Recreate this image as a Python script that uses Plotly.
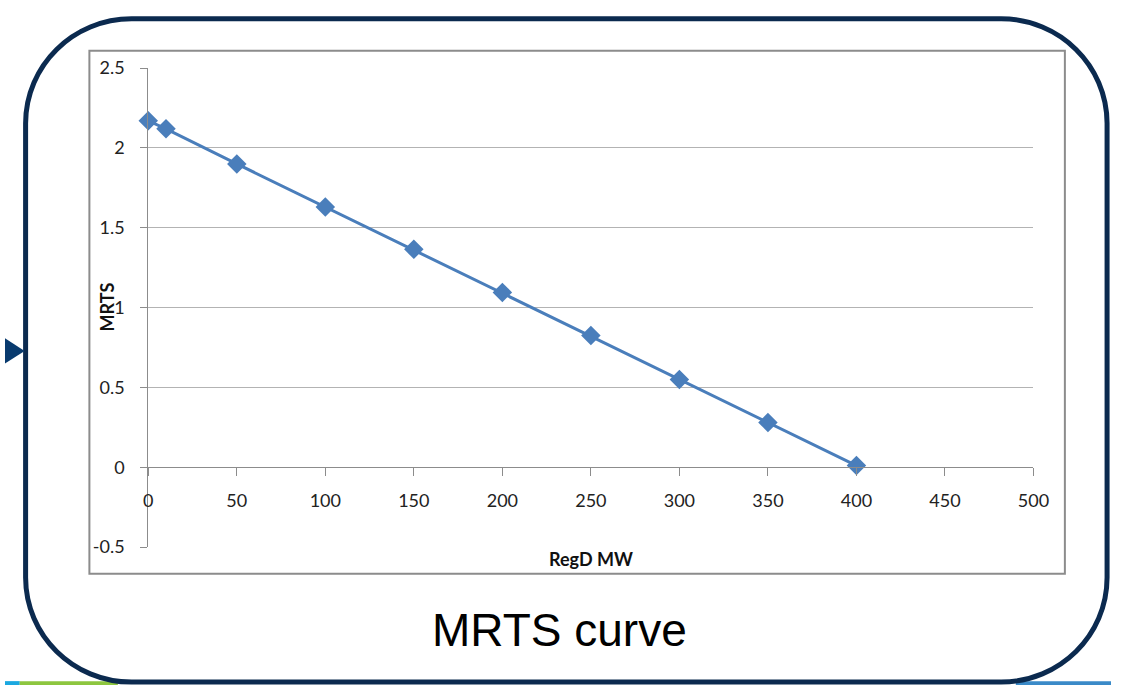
import plotly.graph_objects as go

W, H = 1127, 695

# Data
regd_mw = [0, 10, 50, 100, 150, 200, 250, 300, 350, 400]
mrts = [2.17, 2.12, 1.90, 1.63, 1.365, 1.095, 0.825, 0.55, 0.28, 0.01]
x_ticks = [0, 50, 100, 150, 200, 250, 300, 350, 400, 450, 500]
y_ticks = [-0.5, 0, 0.5, 1, 1.5, 2, 2.5]
y_tick_text = ["-0.5", "0", "0.5", "1", "1.5", "2", "2.5"]

def px(x):
    return x / W

def py(y):
    return 1 - y / H

X0, X1 = 146, 1048
Y_TOP, Y_BOT = 58, 552.5
Y_ZERO = 470

fig = go.Figure()
fig.add_trace(go.Scatter(
    x=regd_mw, y=mrts, mode="lines+markers",
    line=dict(color="#4A7EBB", width=3),
    marker=dict(symbol="diamond", size=15, color="#4A7EBB"),
    showlegend=False, cliponaxis=False,
))

tickfont = dict(family="Lato, Open Sans, sans-serif", size=18, color="#222222")

fig.update_layout(
    width=W, height=H,
    margin=dict(l=0, r=0, t=0, b=0),
    paper_bgcolor="white", plot_bgcolor="white",
    xaxis=dict(
        domain=[px(X0), px(X1)], range=[0, 500],
        tickmode="array", tickvals=x_ticks,
        ticktext=[str(v) for v in x_ticks],
        showgrid=False, zeroline=False,
        showline=True, linecolor="#8C8C8C", linewidth=1,
        ticks="outside", ticklen=8, tickcolor="#8C8C8C", tickwidth=1,
        anchor="free", position=py(Y_ZERO),
        tickfont=tickfont, ticklabelstandoff=9,
    ),
    yaxis=dict(
        domain=[py(Y_BOT), py(Y_TOP)], range=[-0.5, 2.5],
        tickmode="array", tickvals=y_ticks, ticktext=y_tick_text,
        showgrid=True, gridcolor="#B3B3B3", gridwidth=1,
        zeroline=False,
        showline=True, linecolor="#8C8C8C", linewidth=1,
        ticks="outside", ticklen=7, tickcolor="#8C8C8C", tickwidth=1,
        tickfont=tickfont, ticklabelstandoff=12,
    ),
)

shapes = []
# chart frame
shapes.append(dict(type="rect", xref="paper", yref="paper",
                   x0=px(86), x1=px(1080), y0=py(580), y1=py(40),
                   line=dict(color="#8C8C8C", width=2), layer="below"))

# outer rounded rectangle
L, R, T, B = 21, 1123, 7, 692
r = 108
k = 0.5523 * r
def P(x, y):
    return f"{px(x):.5f},{py(y):.5f}"
path = (
    f"M {P(L + r, T)} L {P(R - r, T)} "
    f"C {P(R - r + k, T)} {P(R, T + r - k)} {P(R, T + r)} "
    f"L {P(R, B - r)} "
    f"C {P(R, B - r + k)} {P(R - r + k, B)} {P(R - r, B)} "
    f"L {P(L + r, B)} "
    f"C {P(L + r - k, B)} {P(L, B - r + k)} {P(L, B - r)} "
    f"L {P(L, T + r)} "
    f"C {P(L, T + r - k)} {P(L + r - k, T)} {P(L + r, T)} Z"
)
# bottom color strip
shapes.append(dict(type="rect", xref="paper", yref="paper",
                   x0=px(0), x1=px(15), y0=py(695), y1=py(691),
                   fillcolor="#1BA8E0", line=dict(width=0)))
shapes.append(dict(type="rect", xref="paper", yref="paper",
                   x0=px(15), x1=px(115), y0=py(695), y1=py(691),
                   fillcolor="#8DC63F", line=dict(width=0)))
shapes.append(dict(type="rect", xref="paper", yref="paper",
                   x0=px(1030), x1=px(1127), y0=py(695), y1=py(691),
                   fillcolor="#3A8AC8", line=dict(width=0)))
shapes.append(dict(type="path", xref="paper", yref="paper", path=path,
                   line=dict(color="#0B2A4F", width=5)))
# left arrow
shapes.append(dict(type="path", xref="paper", yref="paper",
                   path=f"M {P(0, 337)} L {P(20, 350)} L {P(0, 363)} Z",
                   fillcolor="#083A6E", line=dict(width=0)))
fig.update_layout(shapes=shapes)

fig.add_annotation(text="<b>MRTS</b>", x=px(104), y=py(305),
                   xref="paper", yref="paper", textangle=-90, showarrow=False,
                   xanchor="center", yanchor="middle",
                   font=dict(family="Lato, Open Sans, sans-serif", size=18, color="#111111"))
fig.add_annotation(text="<b>RegD MW</b>", x=px(597), y=py(565),
                   xref="paper", yref="paper", showarrow=False,
                   xanchor="center", yanchor="middle",
                   font=dict(family="Lato, Open Sans, sans-serif", size=18, color="#111111"))
fig.add_annotation(text="MRTS curve", x=px(565), y=py(638),
                   xref="paper", yref="paper", showarrow=False,
                   xanchor="center", yanchor="middle",
                   font=dict(family="Liberation Sans, Arial, sans-serif", size=46, color="#000000"))

fig.write_html("out.html",
               post_script="document.body.style.margin='0';document.body.style.overflow='hidden';")
